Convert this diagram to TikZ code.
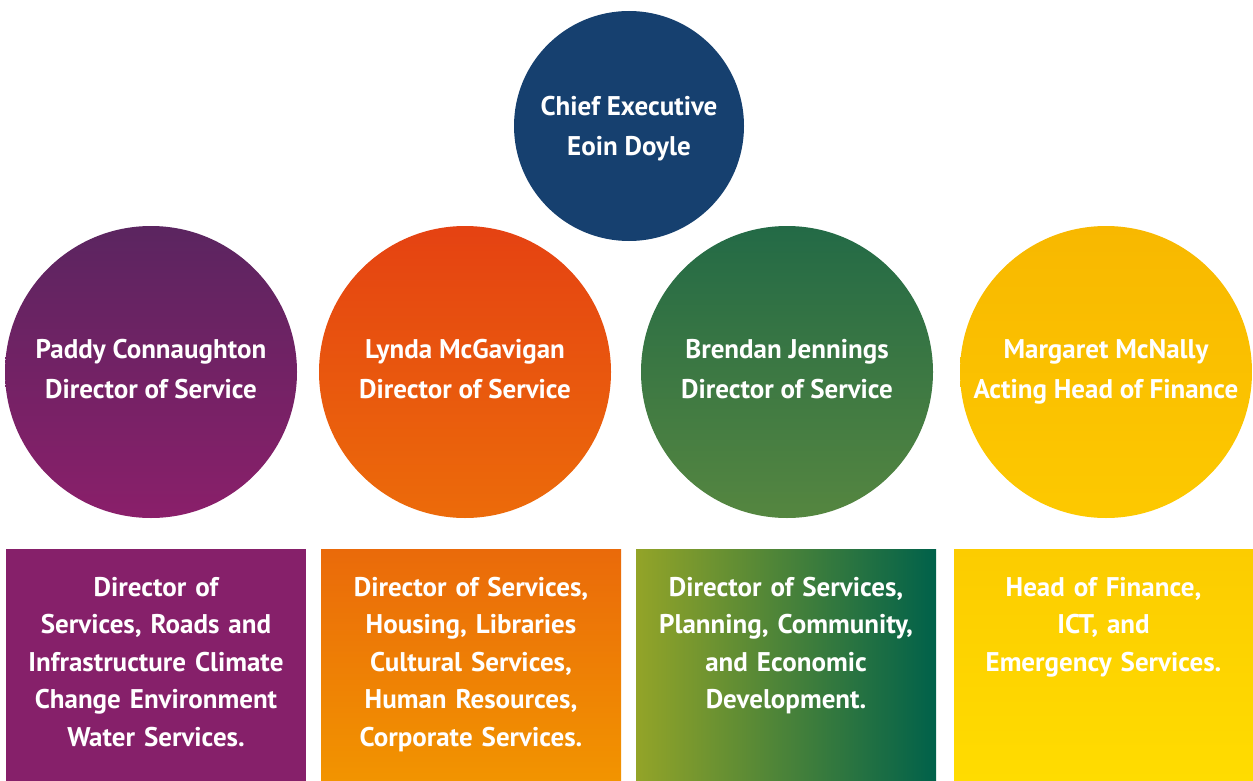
\documentclass[tikz,border=0pt]{standalone}
\usepackage{fontspec}
\setmainfont{PT Sans}
\usepackage{tikz}

\definecolor{ChiefBlue}{HTML}{16406F}
\definecolor{PurpleTop}{HTML}{5B2560}
\definecolor{PurpleBot}{HTML}{8A1F6A}
\definecolor{PurpleBox}{HTML}{86206A}
\definecolor{OrangeTop}{HTML}{E54212}
\definecolor{OrangeBot}{HTML}{EC6B0A}
\definecolor{OrangeBoxTop}{HTML}{EA6A0A}
\definecolor{OrangeBoxBot}{HTML}{F29400}
\definecolor{GreenTop}{HTML}{236A46}
\definecolor{GreenBot}{HTML}{558640}
\definecolor{GreenBoxLeft}{HTML}{93A428}
\definecolor{GreenBoxRight}{HTML}{00614A}
\definecolor{YellowTop}{HTML}{F8B800}
\definecolor{YellowBot}{HTML}{FDC900}
\definecolor{YellowBoxTop}{HTML}{FCCC00}
\definecolor{YellowBoxBot}{HTML}{FFDC00}

\tikzset{
  chief/.style={circle, minimum size=230pt, inner sep=0pt, fill=ChiefBlue,
    text height=64pt, text depth=4pt,
    text=white, align=center, font=\bfseries\fontsize{27}{40}\selectfont},
  director/.style={circle, minimum size=292pt, inner sep=0pt,
    text height=60pt, text depth=8pt,
    text=white, align=center, font=\bfseries\fontsize{27}{40}\selectfont},
  remit/.style={rectangle, anchor=north, minimum width=300pt, inner sep=0pt,
    text width=294pt, text height=47pt, text depth=185pt, align=center,
    text=white, font=\bfseries\fontsize{27}{37.5}\selectfont}
}

\begin{document}
\begin{tikzpicture}[x=1pt,y=-1pt]
\useasboundingbox (0,0) rectangle (1253,781);
\node[chief] (ChiefExecutive) at (629,126) {Chief Executive\\Eoin Doyle};
\node[director, top color=PurpleTop, bottom color=PurpleBot] (PaddyConnaughton) at (151,372) {Paddy Connaughton\\Director of Service};
\node[director, top color=OrangeTop, bottom color=OrangeBot] (LyndaMcGavigan) at (465,372) {Lynda McGavigan\\Director of Service};
\node[director, top color=GreenTop, bottom color=GreenBot] (BrendanJennings) at (787,372) {Brendan Jennings\\Director of Service};
\node[director, top color=YellowTop, bottom color=YellowBot] (MargaretMcNally) at (1106,372) {Margaret McNally\\Acting Head of Finance};
\node[remit, fill=PurpleBox] (RoadsRemit) at (156,549) {Director of\\Services, Roads and\\Infrastructure Climate\\Change Environment\\Water Services.};
\node[remit, top color=OrangeBoxTop, bottom color=OrangeBoxBot] (HousingRemit) at (471,549) {Director of Services,\\Housing, Libraries\\Cultural Services,\\Human Resources,\\Corporate Services.};
\node[remit, left color=GreenBoxLeft, right color=GreenBoxRight] (PlanningRemit) at (786,549) {Director of Services,\\Planning, Community,\\and Economic\\Development.};
\node[remit, minimum width=299pt, top color=YellowBoxTop, bottom color=YellowBoxBot] (FinanceRemit) at (1103.5,549) {Head of Finance,\\ICT, and\\Emergency Services.};
\end{tikzpicture}
\end{document}
